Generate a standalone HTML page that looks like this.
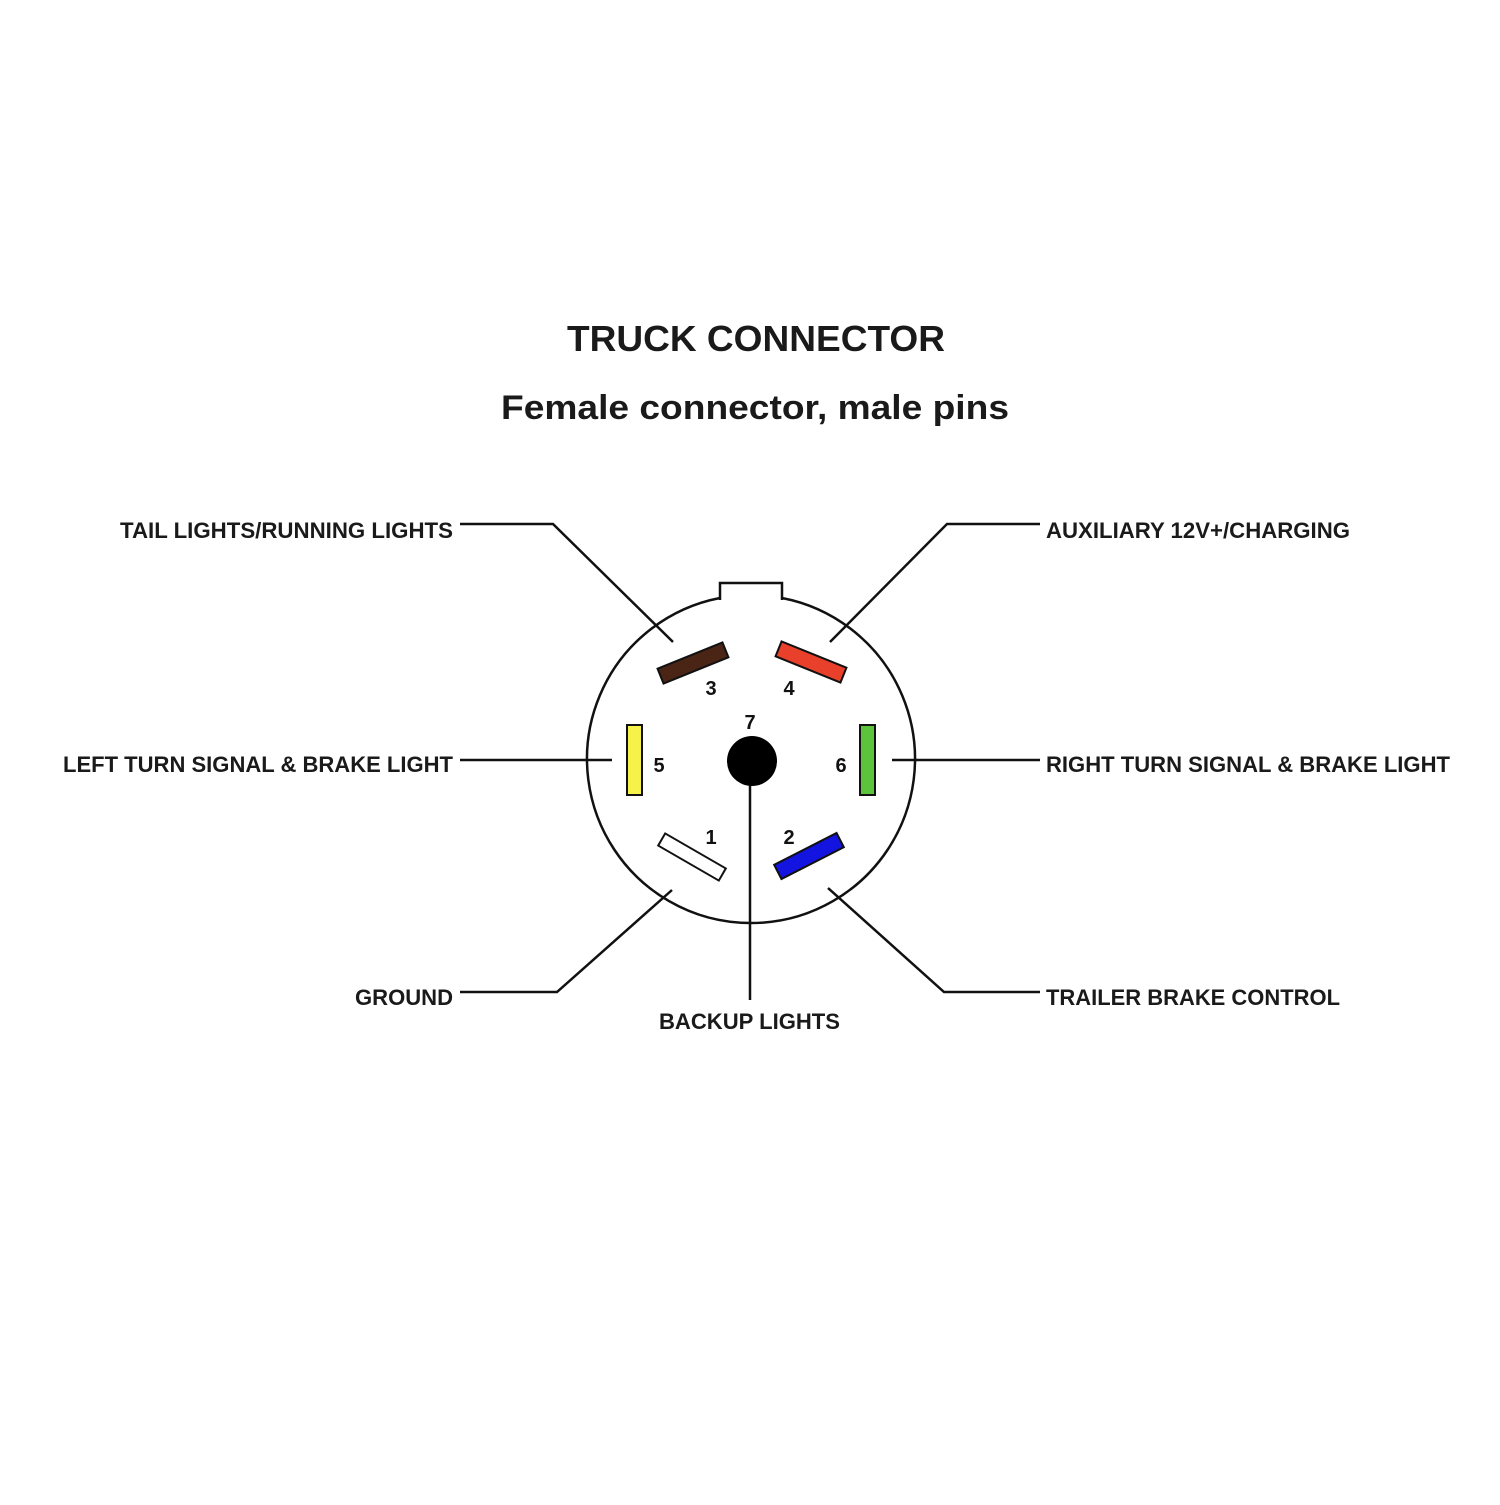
<!DOCTYPE html>
<html><head><meta charset="utf-8"><style>html,body{margin:0;padding:0;background:#fff}</style></head>
<body>
<svg width="1500" height="1500" viewBox="0 0 1500 1500" xmlns="http://www.w3.org/2000/svg" font-family="Liberation Sans, Arial, sans-serif" font-weight="bold">
<rect width="1500" height="1500" fill="#fff"/>
<text x="567" y="351" font-size="36" textLength="378" lengthAdjust="spacingAndGlyphs" fill="#1a1a1a">TRUCK CONNECTOR</text>
<text x="501" y="419" font-size="34" textLength="508" lengthAdjust="spacingAndGlyphs" fill="#1a1a1a">Female connector, male pins</text>
<g font-size="22" fill="#1a1a1a">
<text x="120" y="538" textLength="333" lengthAdjust="spacingAndGlyphs">TAIL LIGHTS/RUNNING LIGHTS</text>
<text x="63" y="772" textLength="390" lengthAdjust="spacingAndGlyphs">LEFT TURN SIGNAL &amp; BRAKE LIGHT</text>
<text x="355" y="1005" textLength="98" lengthAdjust="spacingAndGlyphs">GROUND</text>
<text x="1046" y="538" textLength="304" lengthAdjust="spacingAndGlyphs">AUXILIARY 12V+/CHARGING</text>
<text x="1046" y="772" textLength="404" lengthAdjust="spacingAndGlyphs">RIGHT TURN SIGNAL &amp; BRAKE LIGHT</text>
<text x="1046" y="1005" textLength="294" lengthAdjust="spacingAndGlyphs">TRAILER BRAKE CONTROL</text>
<text x="659" y="1029" textLength="181" lengthAdjust="spacingAndGlyphs">BACKUP LIGHTS</text>
</g>
<g stroke="#111" stroke-width="2.5" fill="none">
<polyline points="460,524 553,524 673,642"/>
<polyline points="1040,524 947,524 830,642"/>
<line x1="460" y1="760" x2="612" y2="760"/>
<line x1="892" y1="760" x2="1040" y2="760"/>
<polyline points="460,992 557,992 672,890"/>
<polyline points="1040,992 944,992 828,888"/>
<line x1="750" y1="770" x2="750" y2="1000"/>
<path d="M720,600 L720,583 L782,583 L782,600"/>
<path d="M720,598 A164 164 0 1 0 782,598"/>
</g>
<g stroke="#111" stroke-width="2">
<rect x="-35" y="-8" width="70" height="16" fill="#4a2415" transform="translate(693,663) rotate(-22)"/>
<rect x="-35" y="-8" width="70" height="16" fill="#e8402a" transform="translate(811,662) rotate(22)"/>
<rect x="627" y="725" width="15" height="70" fill="#f7f24a"/>
<rect x="860" y="725" width="15" height="70" fill="#5cc43a"/>
<rect x="-35" y="-7" width="70" height="14" fill="#fff" transform="translate(692,857) rotate(30)"/>
<rect x="-35" y="-8" width="70" height="16" fill="#1414e0" transform="translate(809,856) rotate(-27)"/>
</g>
<circle cx="752" cy="761" r="25" fill="#000"/>
<g font-size="20" fill="#111" text-anchor="middle">
<text x="711" y="695">3</text>
<text x="789" y="695">4</text>
<text x="750" y="729">7</text>
<text x="659" y="772">5</text>
<text x="841" y="772">6</text>
<text x="711" y="844">1</text>
<text x="789" y="844">2</text>
</g>
</svg>
</body></html>
